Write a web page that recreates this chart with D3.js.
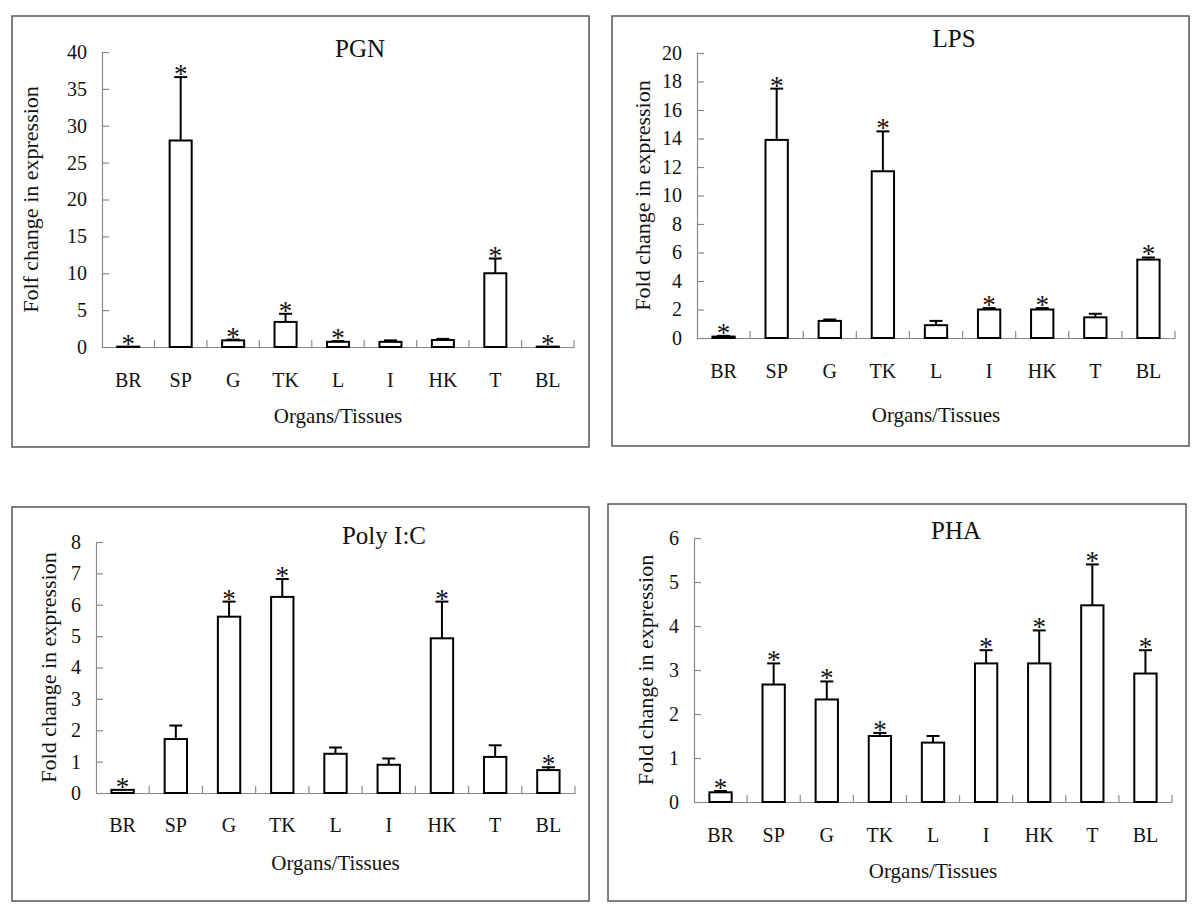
<!DOCTYPE html>
<html>
<head>
<meta charset="utf-8">
<script src="https://cdn.jsdelivr.net/npm/d3@7"></script>
<style>
  html, body { margin: 0; padding: 0; background: #fff; }
  svg { display: block; }
  svg text { font-family: "Liberation Serif", "Times New Roman", serif !important; fill: #111; }
</style>
</head>
<body>
<svg id="chart" width="1200" height="916" font-family="Liberation Serif"></svg>
<script>
// ---------------- data ----------------
const categories = ["BR", "SP", "G", "TK", "L", "I", "HK", "T", "BL"];

const pgnTitle = "PGN";
const pgnYLabel = "Folf change in expression";
const pgnTicks = [0, 5, 10, 15, 20, 25, 30, 35, 40];
const pgnValues = [0.05, 28, 0.9, 3.4, 0.7, 0.7, 0.95, 10, 0.05];
const pgnErrors = [0, 8.6, 0.1, 1.1, 0.1, 0.2, 0.15, 2.0, 0];
const pgnStars  = [1, 1, 1, 1, 1, 0, 0, 1, 1];

const lpsTitle = "LPS";
const lpsYLabel = "Fold change in expression";
const lpsTicks = [0, 2, 4, 6, 8, 10, 12, 14, 16, 18, 20];
const lpsValues = [0.1, 13.9, 1.2, 11.7, 0.9, 2.0, 2.0, 1.45, 5.5];
const lpsErrors = [0.05, 3.6, 0.1, 2.8, 0.3, 0.1, 0.1, 0.25, 0.15];
const lpsStars  = [1, 1, 0, 1, 0, 1, 1, 0, 1];

const polyTitle = "Poly I:C";
const polyYLabel = "Fold change in expression";
const polyTicks = [0, 1, 2, 3, 4, 5, 6, 7, 8];
const polyValues = [0.1, 1.72, 5.62, 6.25, 1.25, 0.9, 4.93, 1.15, 0.73];
const polyErrors = [0, 0.43, 0.48, 0.57, 0.2, 0.2, 1.17, 0.37, 0.09];
const polyStars  = [1, 0, 1, 1, 0, 0, 1, 0, 1];

const phaTitle = "PHA";
const phaYLabel = "Fold change in expression";
const phaTicks = [0, 1, 2, 3, 4, 5, 6];
const phaValues = [0.22, 2.67, 2.33, 1.5, 1.35, 3.15, 3.15, 4.47, 2.92];
const phaErrors = [0.03, 0.48, 0.41, 0.07, 0.15, 0.3, 0.75, 0.93, 0.53];
const phaStars  = [1, 1, 1, 1, 0, 1, 1, 1, 1];

const xAxisLabel = "Organs/Tissues";

// ---------------- drawing ----------------
const svg = d3.select("#chart");
const SERIF = "Liberation Serif, Times New Roman, serif";

function panel(cfg) {
  const g = svg.append("g").attr("font-family", SERIF);
  // frame
  g.append("rect")
    .attr("x", cfg.frame[0]).attr("y", cfg.frame[1])
    .attr("width", cfg.frame[2] - cfg.frame[0])
    .attr("height", cfg.frame[3] - cfg.frame[1])
    .attr("fill", "none").attr("stroke", "#555").attr("stroke-width", 1.5);

  const x = d3.scaleBand().domain(categories)
    .range([cfg.xr[0], cfg.xr[1]]).paddingInner(0).paddingOuter(0);
  const ticks = cfg.ticks;
  const y = d3.scaleLinear().domain([0, ticks[ticks.length - 1]])
    .range([cfg.yr[0], cfg.yr[1]]);

  // y axis (ticks point inward)
  const ya = g.append("g").attr("transform", `translate(${cfg.xr[0]},0)`)
    .call(d3.axisLeft(y).tickValues(ticks).tickFormat(d3.format("d"))
      .tickSize(-7).tickPadding(15).tickSizeOuter(0));
  ya.attr("font-family", SERIF).attr("font-size", 20);
  ya.select(".domain").attr("stroke", "#8a8a8a").attr("stroke-width", 1.2);
  ya.selectAll(".tick line").attr("stroke", "#8a8a8a").attr("stroke-width", 1.2);
  ya.selectAll(".tick text").attr("font-size", 20).attr("font-family", SERIF).attr("fill", "#111");

  // x axis: labels at band centres
  const xa = g.append("g").attr("transform", `translate(0,${cfg.yr[0]})`)
    .call(d3.axisBottom(x).tickSize(0).tickSizeOuter(0));
  xa.attr("font-family", SERIF).attr("font-size", 20);
  xa.select(".domain").attr("stroke", "#8a8a8a").attr("stroke-width", 1.2);
  xa.selectAll(".tick text").attr("font-size", 20).attr("font-family", SERIF).attr("fill", "#111")
    .attr("y", cfg.catBase - cfg.yr[0]).attr("dy", 0);

  // boundary tick marks (pointing up into the plot)
  const bounds = categories.map(c => x(c) + x.step());
  g.append("g").selectAll("line").data(bounds).join("line")
    .attr("x1", d => d).attr("x2", d => d)
    .attr("y1", cfg.yr[0]).attr("y2", cfg.yr[0] - 7)
    .attr("stroke", "#8a8a8a").attr("stroke-width", 1.2);

  const bw = x.step() * 0.42;
  const data = categories.map((c, i) => ({
    c, v: cfg.values[i], e: cfg.errors[i], s: cfg.stars[i]
  }));

  // error bars (upper only)
  const eg = g.append("g");
  data.filter(d => d.e > 0).forEach(d => {
    const cx = x(d.c) + x.step() / 2;
    eg.append("line").attr("x1", cx).attr("x2", cx)
      .attr("y1", y(d.v)).attr("y2", y(d.v + d.e))
      .attr("stroke", "#000").attr("stroke-width", 2);
    eg.append("line").attr("x1", cx - 6.5).attr("x2", cx + 6.5)
      .attr("y1", y(d.v + d.e)).attr("y2", y(d.v + d.e))
      .attr("stroke", "#000").attr("stroke-width", 2);
  });

  // bars
  g.append("g").selectAll("rect").data(data).join("rect")
    .attr("x", d => x(d.c) + (x.step() - bw) / 2)
    .attr("y", d => y(d.v))
    .attr("width", bw)
    .attr("height", d => Math.max(0, y(0) - y(d.v)))
    .attr("fill", "#fff").attr("stroke", "#000").attr("stroke-width", 2);

  // significance stars
  g.append("g").selectAll("text").data(data.filter(d => d.s)).join("text")
    .attr("x", d => x(d.c) + x.step() / 2)
    .attr("y", d => y(d.v + d.e) + 6)
    .attr("text-anchor", "middle")
    .attr("font-size", 27)
    .attr("fill", "#222")
    .text("*");

  // title
  g.append("text").attr("x", cfg.title[0]).attr("y", cfg.title[1])
    .attr("text-anchor", "middle").attr("font-size", 25).text(cfg.titleText);

  // x axis title
  g.append("text").attr("x", (cfg.xr[0] + cfg.xr[1]) / 2).attr("y", cfg.xTitleBase)
    .attr("text-anchor", "middle").attr("font-size", 21).text(xAxisLabel);

  // y axis title
  g.append("text")
    .attr("transform", `translate(${cfg.yTitleX},${(cfg.yr[0] + cfg.yr[1]) / 2}) rotate(-90)`)
    .attr("text-anchor", "middle").attr("dy", "0.35em")
    .attr("font-size", 22).text(cfg.yLabel);
}

panel({
  frame: [12, 16, 589, 447], xr: [102, 574], yr: [347, 52],
  ticks: pgnTicks, values: pgnValues, errors: pgnErrors, stars: pgnStars,
  titleText: pgnTitle, title: [360, 57], catBase: 387, xTitleBase: 423,
  yTitleX: 30, yLabel: pgnYLabel
});
panel({
  frame: [612, 16, 1189, 446], xr: [697, 1175], yr: [338, 53],
  ticks: lpsTicks, values: lpsValues, errors: lpsErrors, stars: lpsStars,
  titleText: lpsTitle, title: [954, 47], catBase: 378, xTitleBase: 422,
  yTitleX: 642, yLabel: lpsYLabel
});
panel({
  frame: [12, 507, 589, 901], xr: [96, 575], yr: [793, 542],
  ticks: polyTicks, values: polyValues, errors: polyErrors, stars: polyStars,
  titleText: polyTitle, title: [384, 544], catBase: 832, xTitleBase: 870,
  yTitleX: 48, yLabel: polyYLabel
});
panel({
  frame: [608, 504, 1186, 901], xr: [694, 1172], yr: [802, 538],
  ticks: phaTicks, values: phaValues, errors: phaErrors, stars: phaStars,
  titleText: phaTitle, title: [956, 539], catBase: 842, xTitleBase: 878,
  yTitleX: 645, yLabel: phaYLabel
});
</script>
</body>
</html>
